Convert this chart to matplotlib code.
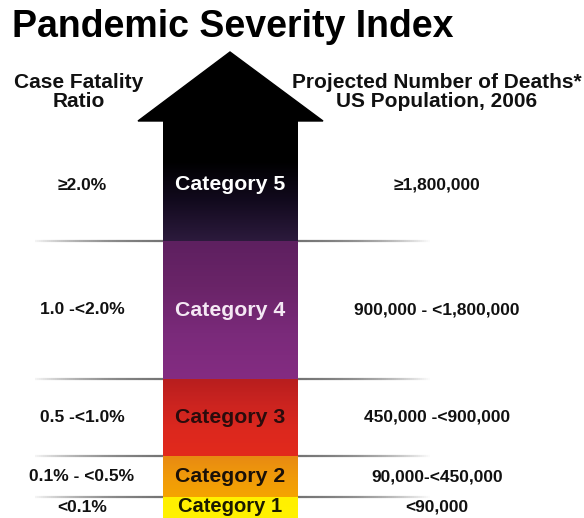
import numpy as np
import matplotlib.pyplot as plt
from matplotlib.colors import LinearSegmentedColormap
from matplotlib.patches import Polygon

plt.rcParams['font.family'] = ['Liberation Sans', 'DejaVu Sans']

# data
categories = ["Category 5", "Category 4", "Category 3", "Category 2", "Category 1"]
fatality = ["\u22652.0%", "1.0 -<2.0%", "0.5 -<1.0%", "0.1% - <0.5%", "<0.1%"]
deaths = ["\u22651,800,000", "900,000 - <1,800,000", "450,000 -<900,000",
          "90,000-<450,000", "<90,000"]

# band edges in pixels (top -> bottom)
edges = [121, 241, 379, 456, 497, 518]
band_colors = [
    ["#000000", "#000000", "#120a1e", "#2c1a3c"],
    ["#5e2060", "#6a2468", "#7a2a7a", "#842c82"],
    ["#b81e1e", "#cc2420", "#dc281e", "#e22a1c"],
    ["#e88a12", "#f09a0a", "#f5a400"],
    ["#fff000", "#fff200"],
]
text_colors = ["white", "#f4e8f4", "#2a0c0c", "#1a1008", "#1a1a00"]

fig = plt.figure(figsize=(5.84, 5.18), dpi=100)
ax = fig.add_axes([0, 0, 1, 1])
ax.set_xlim(0, 584)
ax.set_ylim(518, 0)
ax.axis('off')

x0, x1 = 163, 298
xc = (x0 + x1) / 2

# separator lines, darker near the arrow and fading outward
for yl in edges[1:-1]:
    xs = np.linspace(35, 430, 200)
    for i in range(len(xs) - 1):
        xm = (xs[i] + xs[i + 1]) / 2
        d = abs(xm - xc) / 200
        a = max(0.0, 1 - d ** 3) * 0.85
        ax.plot([xs[i], xs[i + 1]], [yl, yl], color="#555555", lw=1.6,
                alpha=a, solid_capstyle='butt', zorder=1)

# arrow head
ax.add_patch(Polygon([[138, 121], [230, 52], [323, 121]], closed=True,
                     color="black", zorder=3))

# colored bands with vertical gradients
for i in range(5):
    cmap = LinearSegmentedColormap.from_list("b%d" % i, band_colors[i])
    grad = np.linspace(0, 1, 100).reshape(-1, 1)
    ax.imshow(grad, cmap=cmap, aspect='auto',
              extent=[x0, x1, edges[i + 1], edges[i]], zorder=2)
    ym = (edges[i] + edges[i + 1]) / 2
    fs = 15.3
    if i == 0:
        ym = 185
    if i == 4:
        ym = 507
        fs = 14.5
    ax.text(xc, ym, categories[i], ha='center', va='center', fontsize=fs,
            fontweight='bold', color=text_colors[i], zorder=4)
    ax.text(82, ym, fatality[i], ha='center', va='center', fontsize=12.5,
            fontweight='bold', color="#111111")
    ax.text(437, ym, deaths[i], ha='center', va='center', fontsize=12.5,
            fontweight='bold', color="#111111")

ax.set_xlim(0, 584)
ax.set_ylim(518, 0)

# titles
ax.text(12, 27, "Pandemic Severity Index", ha='left', va='center',
        fontsize=27, fontweight='bold', color="black")
ax.text(79, 92, "Case Fatality\nRatio", ha='center', va='center',
        fontsize=15, fontweight='bold', color="#111111", linespacing=0.95)
ax.text(437, 92, "Projected Number of Deaths*\nUS Population, 2006", ha='center',
        va='center', fontsize=15, fontweight='bold', color="#111111",
        linespacing=0.95)

fig.savefig("out.png", dpi=100)
